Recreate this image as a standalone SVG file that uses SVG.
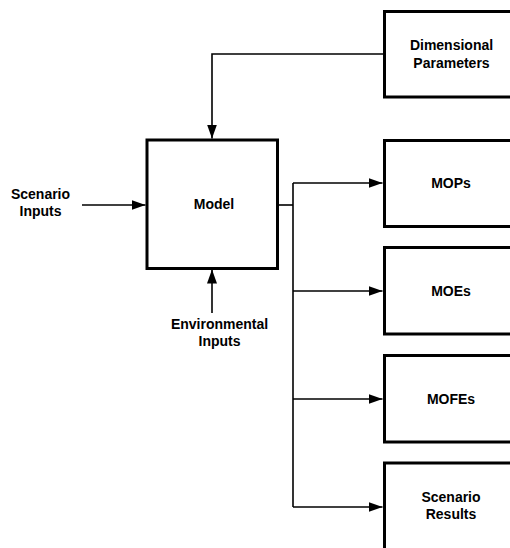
<svg xmlns="http://www.w3.org/2000/svg" width="510" height="548" viewBox="0 0 510 548">
  <style>
    .box { fill: #ffffff; stroke: #000000; stroke-width: 3; }
    .wire { fill: none; stroke: #000000; stroke-width: 1.6; }
    .lbl { font-family: "Liberation Sans", Arial, sans-serif; font-weight: bold; font-size: 14px; fill: #000000; text-anchor: middle; }
  </style>
  <defs>
    <marker id="arrow" viewBox="0 0 14 10" refX="14" refY="5" markerWidth="14" markerHeight="10" markerUnits="userSpaceOnUse" orient="auto">
      <path d="M0,0 L14,5 L0,10 Z" fill="#000000"/>
    </marker>
  </defs>
  <rect width="510" height="548" fill="#ffffff"/>

  <g id="connectors">
    <!-- Dimensional Parameters into Model -->
    <path class="wire" d="M384,54 H212 V138.5" marker-end="url(#arrow)"/>
    <!-- Scenario Inputs into Model -->
    <path class="wire" d="M82,205 H145.5" marker-end="url(#arrow)"/>
    <!-- Environmental Inputs into Model -->
    <path class="wire" d="M212,313 V269.5" marker-end="url(#arrow)"/>
    <!-- Model output bus -->
    <path class="wire" d="M278.5,205 H293"/>
    <path class="wire" d="M293,183 V507"/>
    <path class="wire" d="M293,183 H382.5" marker-end="url(#arrow)"/>
    <path class="wire" d="M293,291 H382.5" marker-end="url(#arrow)"/>
    <path class="wire" d="M293,399 H382.5" marker-end="url(#arrow)"/>
    <path class="wire" d="M293,507 H382.5" marker-end="url(#arrow)"/>
  </g>

  <g id="scenario-inputs">
    <text class="lbl" x="40.5" y="199">Scenario</text>
    <text class="lbl" x="40.5" y="215.5">Inputs</text>
  </g>

  <g id="environmental-inputs">
    <text class="lbl" x="219.5" y="328.5">Environmental</text>
    <text class="lbl" x="219.5" y="345.5">Inputs</text>
  </g>

  <g id="model">
    <rect class="box" x="147" y="140" width="130.5" height="128.5"/>
    <text class="lbl" x="214" y="209">Model</text>
  </g>

  <g id="dimensional-parameters">
    <rect class="box" x="384.5" y="11.5" width="140" height="85.5"/>
    <text class="lbl" x="451.5" y="50">Dimensional</text>
    <text class="lbl" x="451.5" y="67.5">Parameters</text>
  </g>

  <g id="mops">
    <rect class="box" x="384.5" y="140.5" width="140" height="86"/>
    <text class="lbl" x="451" y="188">MOPs</text>
  </g>

  <g id="moes">
    <rect class="box" x="384.5" y="247.5" width="140" height="86.5"/>
    <text class="lbl" x="451" y="296">MOEs</text>
  </g>

  <g id="mofes">
    <rect class="box" x="384.5" y="355.5" width="140" height="86.5"/>
    <text class="lbl" x="451" y="403.5">MOFEs</text>
  </g>

  <g id="scenario-results">
    <rect class="box" x="384.5" y="463" width="140" height="100"/>
    <text class="lbl" x="451" y="501.5">Scenario</text>
    <text class="lbl" x="451" y="519">Results</text>
  </g>
</svg>
